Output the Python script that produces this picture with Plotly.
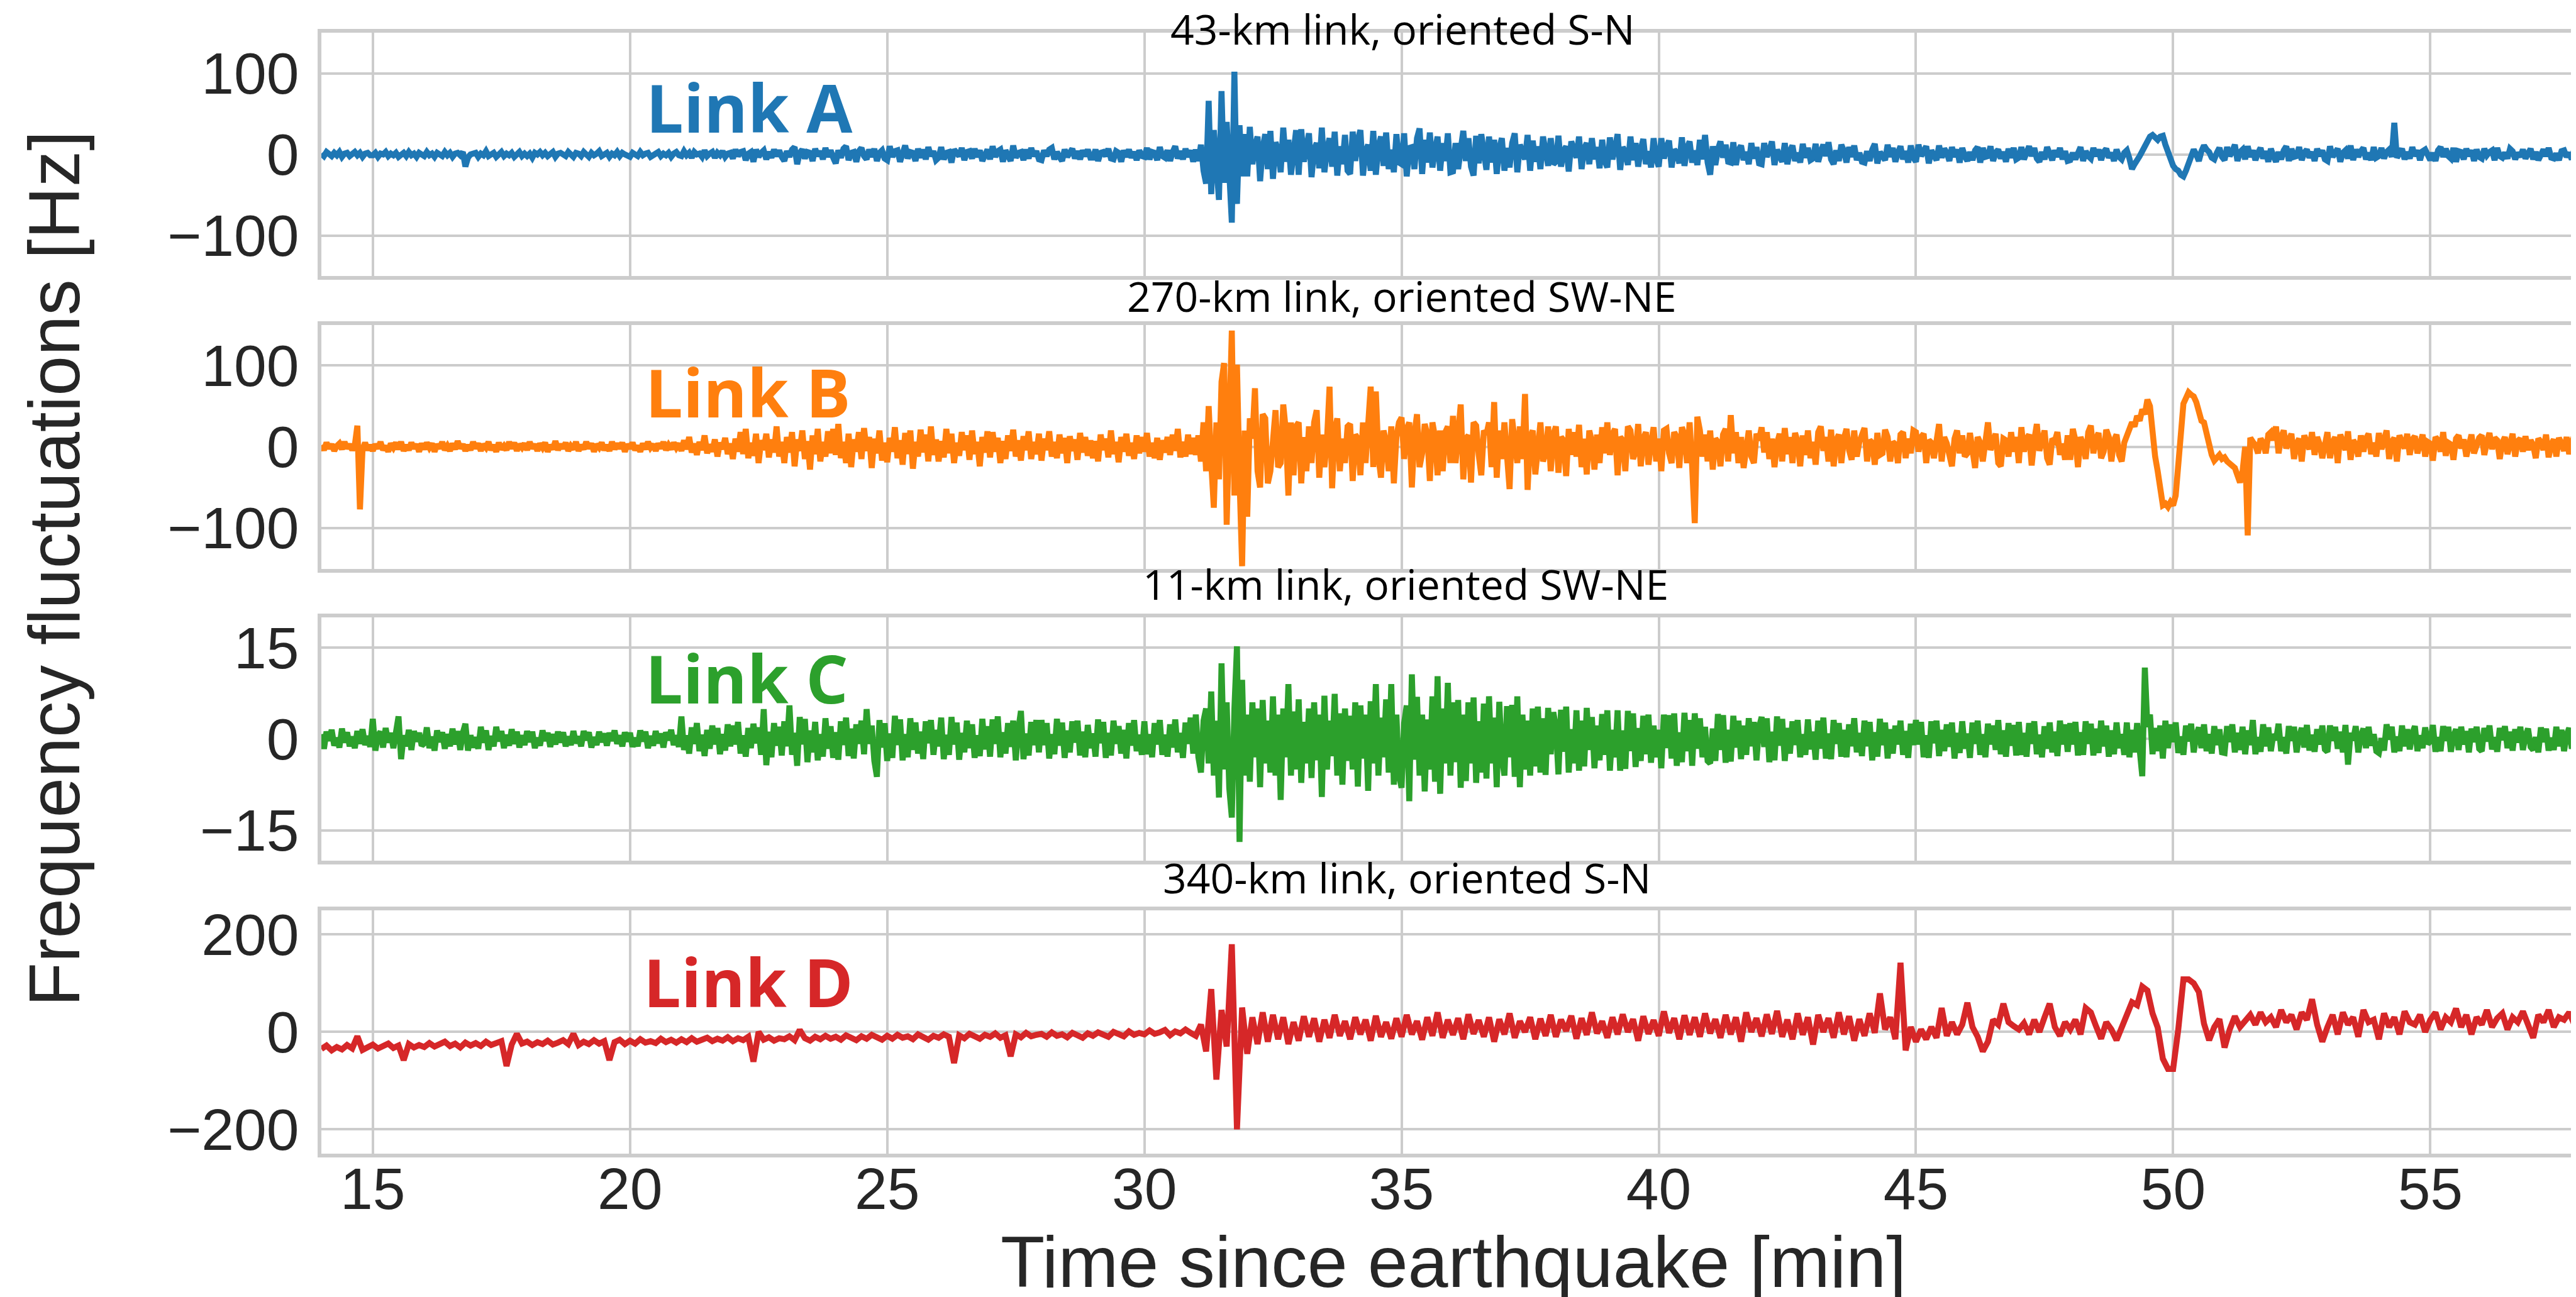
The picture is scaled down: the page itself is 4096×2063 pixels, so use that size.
import numpy as np
import plotly.graph_objects as go

# ---------------- data ----------------
# one row per minute, starting at 14 min; the samples of a row are evenly spread over that minute
first_minute = 14

link_a_rows = [
    [1, -2, 3, 0, -2, 2, -1, 3, -3, 1, 2, -2, 0, 3, -1, 2, -3, 1, 2, -1],
    [-1, 2, -3, 1, 0, 3, -2, 1, -1, 2, -3, 0, 2, -2, 3, -1, 1, -3, 2, 0],
    [-2, 3, -1, 1, -3, 2, 0, -2, 3, -1, 2, -3, 1, 2, -1, 3, -15, -4, 0, 2],
    [2, -3, 1, -1, 4, -2, 0, 2, -3, 1, 3, -2, 1, -1, 2, -3, 0, 3, -2, 1],
    [-2, 1, -4, 2, 0, 3, -1, 2, -2, 0, 3, -3, 1, 2, -1, -2, 3, 0, -3, 2],
    [1, -2, 3, 0, -3, 2, -1, 1, 4, -2, 0, 2, -3, 1, -1, 3, -2, 2, 0, -2],
    [-3, 2, 0, -2, 3, -1, 1, 2, -3, 0, 1, 3, -2, 1, -1, 2, -3, 1, 3, -1],
    [-2, 4, -1, 2, -4, 3, 0, 1, -3, 5, -2, 1, 3, -4, 2, -1, 4, -3, 1, 2],
    [-5, 6, -2, 3, 4, -7, 1, 3, -9, 6, -3, 2, 5, -6, 3, -4, 6, -2, 5, -3],
    [-8, 4, -3, 6, 9, -12, 2, 6, -5, 3, 2, -8, 7, -2, 4, -6, 8, -3, 5, -4],
    [-11, 5, -4, 7, 10, -7, 2, 3, -9, 4, 8, -2, -6, 6, -3, 7, -8, 2, 5, -5],
    [-7, 10, -3, 4, 5, -9, 2, 11, -5, 3, 2, -8, 7, -4, 6, -6, 9, -2, 4, -7],
    [-4, 9, -6, 2, 3, -10, 6, 1, -2, 8, -7, 3, 4, -5, 7, -3, 5, -8, 2, 6],
    [-6, 10, -3, 4, 6, -9, 5, -2, -8, 11, -4, 2, 3, -7, 6, -5, 8, -2, 4, -6],
    [-7, 5, -2, 6, 8, -6, 3, -3, -8, 6, -3, 2, 7, -5, 4, -6, 5, -2, 6, -4],
    [-4, 6, -8, 2, 3, -2, 7, -5, -6, 4, 2, -9, 5, -3, 6, -4, 3, -7, 5, -2],
    [-3, 8, -6, 3, 2, -7, 9, -2, -4, 5, -8, 3, 10, -5, 4, -6, 7, -3, 5, -9],
    [6, -8, 12, -20, -36, 66, -49, 30, -20, -56, 78, -35, 40, -20, -84, 102, -61, 36, -27, 25],
    [-27, 34, -12, 10, 22, -33, 8, 25, -18, 29, -30, 15, 5, -22, 33, -9, 18, -25, 12, 30],
    [-25, 31, -9, 14, 26, -28, 6, 14, -17, 33, -22, 6, 20, -15, 28, -26, 10, -12, 24, -20],
    [-24, 28, -8, 18, 30, -26, 4, 12, -20, 29, -25, 10, 22, -14, 27, -18, 6, -22, 25, -10],
    [-12, 26, -27, 8, 9, -18, 20, 32, -24, 18, -10, 27, -16, 5, 22, -20, 14, -8, 26, -22],
    [-21, 14, -18, 6, 29, -8, 20, -15, -26, 23, -11, 25, 5, -19, 22, -10, 18, -24, 8, 20],
    [-20, 8, -16, 14, 26, -22, 12, 4, -6, 24, -20, 17, -9, 10, -18, 22, 6, -14, 20, -12],
    [-9, 23, -15, 4, 10, -21, 16, 2, -4, 22, -18, 7, 14, -12, 20, -6, 9, -17, 18, -8],
    [-16, 21, -6, 8, 25, -19, 9, 3, -13, 22, -7, 14, -15, 6, 19, -12, 4, -16, 20, -5],
    [-15, 20, -5, 9, 17, -16, 6, 2, -11, 21, -14, 8, 16, -10, 5, -13, 18, -6, 24, -10],
    [-25, 10, -13, 6, 16, -4, 12, -9, -10, 15, -13, 5, 11, -7, 3, -12, 14, -5, 9, -11],
    [-12, 14, -3, 5, 16, -13, 6, -2, -9, 14, -12, 4, 11, -8, 2, -10, 13, -4, 8, -7],
    [-5, 13, -9, 3, 12, -2, 15, -6, -12, 5, -8, 12, 4, -10, 9, -3, 11, -7, 2, -9],
    [-10, 4, -8, 6, 13, -11, 3, -2, -7, 12, -3, 8, -9, 2, 10, -6, 4, -10, 11, -4],
    [-9, 12, -2, 4, 10, -11, 5, -1, -7, 11, -4, 7, 2, -8, 9, -3, 6, -10, 8, -2],
    [-8, 3, -7, 5, 9, -10, 8, -3, -2, 10, -8, 2, 6, -5, 3, -9, 7, -4, 8, -6],
    [-4, 9, -6, 2, 10, -2, 8, -5, -9, 3, -6, 9, 1, -7, 5, -3, 8, -6, 4, -8],
    [-7, 2, -6, 4, 9, -8, 4, -2, -5, 8, -2, 6, -7, 3, 7, -4, 2, -8, 6, -3],
    [-6, 2, 5, -5, -18, -12, -8, -2, 4, 10, 18, 22, 24, 20, 18, 22, 23, 12, 2, -6],
    [-14, -18, -20, -25, -27, -20, -10, -2, 6, 0, -8, 4, 11, 6, 3, -4, -6, 2, 8, -3],
    [-7, 9, -2, 4, 12, -8, 3, 6, -6, 10, -3, 5, -7, 2, 8, -5, 4, -9, 7, -2],
    [-9, 3, -6, 5, 10, -8, 7, -3, -2, 9, -7, 2, 6, -4, 3, -8, 7, -2, 5, -6],
    [-8, 10, -3, 2, 7, -9, 2, 5, -5, 11, -7, 6, -3, 4, 8, -6, 2, -7, 9, -4],
    [-2, 8, -5, 3, 6, -3, 39, -4, 2, 7, -6, 3, -5, 9, -2, 5, -7, 4, 6, -3],
    [-7, 2, -8, 5, 9, -3, 7, -2, -5, 8, -9, 4, 3, -6, 7, -2, 5, -8, 6, -3],
    [-5, 7, -1, 3, 5, -7, 8, -2, -4, 2, -5, 7, 4, -6, 2, -3, 6, -5, 3, 7],
    [-6, 3, -7, 2, 6, -2, 8, -4, -5, 1, -7, 4, 5, -3, 2, -6, 7, -2, 4, -5],
]

link_b_rows = [
    [2, -4, 5, -2, 3, -5, 1, 4, -3, 6, -2, 3, -4, 2, 26, -77, -3, 5, -4, 2],
    [-5, 3, -2, 6, -4, 1, -6, 4, -1, 5, -3, 6, -5, 2, -4, 5, -2, 3, -6, 4],
    [-3, 5, -1, 4, -6, 3, -2, 6, -4, 1, -5, 4, -3, 7, -2, 3, -5, 2, -4, 6],
    [-2, 4, -5, 3, -1, 6, -4, 2, -6, 5, -3, 1, -4, 6, -2, 5, -5, 3, -1, 4],
    [-4, 6, -2, 3, -5, 4, -1, 5, -6, 2, -3, 7, -4, 3, -2, 5, -5, 1, -3, 6],
    [-5, 2, -3, 6, -2, 4, -6, 3, -1, 5, -4, 2, -5, 6, -3, 4, -2, 5, -6, 3],
    [-2, 5, -4, 1, -6, 4, -3, 6, -1, 3, -5, 4, -2, 6, -4, 2, -3, 5, -1, 4],
    [-5, 8, -3, 12, -7, 4, -10, 6, -4, 14, -8, 3, -6, 9, -12, 5, -3, 11, -9, 4],
    [-15, 10, -6, 18, -9, 22, -14, 5, -11, 16, -20, 8, -4, 16, -13, 9, -7, 25, -12, 6],
    [-20, 12, -7, 18, -24, 9, -5, 20, -15, 7, -28, 14, -9, 22, -18, 6, -12, 19, -8, 22],
    [-10, 28, -14, 6, -20, 16, -25, 9, -6, 18, -15, 23, -5, 12, -26, 10, -8, 20, -17, 5],
    [-19, 11, -6, 24, -14, 8, -22, 17, -9, 20, -27, 6, -12, 21, -7, 15, -18, 25, -10, 9],
    [-18, 7, -13, 22, -8, 16, -20, 5, -11, 18, -4, 14, -16, 20, -9, 6, -24, 12, -7, 19],
    [-13, 18, -6, 11, -20, 7, -15, 14, -5, 21, -12, 8, -17, 13, -4, 19, -15, 6, -9, 16],
    [-17, 10, -4, 19, -12, 6, -14, 15, -8, 11, -20, 13, -5, 9, -16, 17, -7, 12, -11, 8],
    [-14, 7, -18, 15, -4, 10, -13, 20, -9, 6, -19, 12, -6, 16, -11, 5, -15, 14, -8, 12],
    [-6, 17, -12, 5, -14, 11, -16, 8, -7, 12, -10, 15, -5, 22, -13, 6, -12, 15, -9, 11],
    [-10, 14, -18, 30, -30, 50, -20, -75, 30, -40, 80, 103, -96, 40, 143, -60, 101, -40, -147, 20],
    [-86, 35, 10, 72, -30, -50, 40, 35, -45, -30, 20, 45, -25, -20, 52, 20, -60, 30, -35, 25],
    [30, -45, 12, -30, 25, -20, 30, 45, -38, 15, -25, 8, 74, -51, 20, 35, -30, 10, -20, 25],
    [28, -42, 15, 10, -35, 30, -20, 25, 74, -25, 68, -12, -38, 20, 6, -30, 25, -45, 12, 30],
    [36, -15, 22, 30, -50, 15, 40, -25, -8, 28, 15, -42, 30, 12, -35, 20, -30, 18, 25, -20],
    [38, -20, 15, 52, -40, 10, 14, -44, 30, 26, -10, -35, 20, 15, 30, -25, 55, -38, 20, -15],
    [30, -25, -52, 34, 10, -20, 25, -15, 65, -53, 12, 20, -34, 8, 30, -18, -8, 25, -30, 15],
    [25, -32, 12, 8, -36, 22, -10, 18, -12, 27, -25, 10, -34, 20, 6, -28, 15, -20, 24, -8],
    [30, -10, 15, 22, -35, 12, 8, -30, 25, 20, -15, -6, 28, -24, 10, 18, -22, 5, 24, -18],
    [10, -30, 20, 22, -8, -20, 18, 12, -26, 24, 15, -20, 30, -25, -94, 37, 20, -12, 15, -18],
    [20, -28, 10, 6, -24, 15, 22, -18, 39, -8, 18, -20, 12, -26, 5, 20, -12, -20, 16, 8],
    [24, -7, 18, -15, 10, -25, 4, 16, -18, 23, -9, 12, -20, 17, 6, -24, 14, -10, 20, -14],
    [6, -22, 18, 25, -5, 12, -18, 21, -24, 8, 15, -20, 10, 22, -4, -16, 20, -12, 6, 15],
    [23, -18, 8, 5, -22, 17, -10, -8, 21, 12, -18, 6, 3, -20, 15, 18, -14, 10, -8, 20],
    [18, -6, 12, 16, -20, 8, 5, -14, 10, 28, -18, 12, 4, -15, -24, 10, 20, -8, 14, -12],
    [-8, 17, -10, -26, 12, 5, -18, 15, 30, -4, 8, 16, -20, -24, 10, 8, -12, 18, -6, 12],
    [-20, 24, -6, 10, 15, -23, 8, 28, -5, 12, 20, -14, -22, 10, 7, 18, -10, 4, -16, 14],
    [-16, 22, 8, -25, 12, 3, -15, 18, 26, -8, 10, 17, -14, -6, 21, 12, -18, 8, 15, -10],
    [-18, 5, 15, 22, 30, 25, 38, 32, 46, 40, 58, 50, 7, -12, -30, -50, -72, -70, -74, -68],
    [-72, -60, -25, 10, 53, 60, 67, 64, 62, 55, 39, 32, 30, 15, -3, -10, -17, -12, -10, -15],
    [-13, -18, -20, -24, -26, -35, -44, -30, 0, -109, 11, 6, 2, -8, 10, 5, -8, 15, 18, 8],
    [25, -8, 12, 20, -2, 8, 16, -15, 4, 10, -18, 14, 6, -3, 18, -10, 12, 3, -14, 8],
    [18, -14, 5, 12, -20, 15, 2, -4, 19, -16, 8, 3, -12, 14, -6, 10, 16, -9, 5, -12],
    [17, -3, 8, 20, -15, 6, 11, -18, 14, 4, -2, 16, -10, 9, 13, -8, 4, 15, -12, 6],
    [4, -17, 12, 8, -6, 18, -11, 5, 3, -16, 10, 14, -2, 9, -12, 6, 15, -8, 2, 11],
    [14, -10, 6, 17, -3, 11, 8, -15, 5, 12, -9, 3, 16, -12, 7, 10, -6, 13, -4, 8],
    [2, -14, 10, 6, -4, 15, -13, 3, 9, -12, 11, 4, -5, 12, -9, 6, 14, -7, 10, 3],
]

link_c_rows = [
    [0.8, -1.6, 1.2, -0.3, 1.5, -1.1, 0.2, -1.4, 1.7, -0.6, 1.1, -1.2, 0.4, -1.5, 1.3, -0.8, 1.6, -1.0, 0.5, -1.3],
    [3.3, -1.9, 0.5, 1.2, -1.4, 1.8, -0.6, 1.0, -1.5, 1.4, 3.7, -3.3, 0.6, -1.2, 1.5, -1.8, 1.3, -0.4, 1.0, -1.1],
    [-0.7, 1.9, -1.5, 0.4, -1.9, 1.4, -0.5, 1.1, -1.6, 0.8, -1.2, 1.7, -0.9, 1.3, -1.8, 1.0, 2.5, -1.9, 0.6, -1.4],
    [0.3, -1.6, 2.0, -0.6, 1.4, -1.8, 0.5, -1.2, 2.0, -0.4, 1.3, -1.5, 0.7, -1.1, 1.6, -0.8, 1.2, -1.4, 0.6, -1.0],
    [1.3, -0.5, 1.2, -1.5, 0.2, -1.1, 1.4, -0.3, 1.0, -1.3, 0.8, -0.9, 1.2, -0.6, 1.1, -1.2, 0.4, -1.0, 1.3, -0.7],
    [0.4, -1.2, 1.3, -0.2, 1.1, -1.4, 0.3, -1.0, 1.2, -0.5, 0.9, -1.1, 1.0, -0.3, 1.4, -0.8, 0.6, -1.2, 1.1, -0.4],
    [1.0, -1.3, 0.2, -1.2, 1.4, -0.4, 1.2, -1.5, 0.5, -1.1, 1.3, -0.7, 0.9, -1.4, 1.1, -0.2, 1.5, -1.0, 0.6, -1.3],
    [3.7, -1.8, 0.6, -2.4, 1.9, -0.8, 2.6, -2.0, 0.7, -2.8, 1.5, -1.6, 2.2, -0.9, 1.8, -2.5, 0.8, -1.9, 2.4, -1.2],
    [2.2, -0.9, 2.8, -2.4, 0.6, -2.9, 1.8, -1.5, 2.5, -0.7, 1.9, -2.6, 4.9, -4.3, 1.2, -3.0, 2.6, -1.1, 2.0, -2.7],
    [2.9, -1.2, 5.5, -2.6, 1.0, -4.4, 3.6, -0.9, 3.3, -3.8, 1.4, -2.2, 2.8, -3.5, 0.8, -2.9, 3.4, -1.6, 2.1, -3.1],
    [1.1, -3.4, 2.9, -1.0, 3.5, -2.8, 1.7, -3.2, 2.4, -0.8, 3.0, -2.5, 4.9, -0.8, 2.2, -3.6, -6.2, 3.1, -1.4, 2.6],
    [-3.6, 0.9, -3.1, 3.8, -1.0, 3.2, -3.5, 0.8, -3.0, 3.4, -1.8, 2.7, -2.4, 1.2, -3.3, 2.9, -0.7, 3.1, -2.6, 1.5],
    [-1.2, 3.5, -3.3, 0.7, -2.6, 3.6, -0.9, 2.7, -3.4, 1.0, -2.2, 3.0, -1.5, 2.4, -3.1, 0.6, -2.8, 3.3, -1.7, 2.1],
    [-2.9, 3.2, -0.8, 3.7, -3.0, 1.1, -2.4, 2.6, -1.3, 3.0, -3.5, 1.6, 4.6, -3.3, 0.9, -2.7, 2.8, -1.0, 3.1, -2.2],
    [3.1, -1.0, 2.6, -3.2, 0.8, -2.5, 3.3, -1.1, 2.7, -3.1, 1.4, -2.2, 2.9, -0.6, 3.0, -2.7, 1.2, -3.0, 2.3, -1.5],
    [0.9, -2.9, 3.2, -0.7, 2.8, -3.1, 1.0, -2.7, 3.0, -0.8, 2.1, -2.4, 1.5, -3.2, 2.6, -1.1, 3.1, -2.0, 0.7, -2.6],
    [2.9, -2.5, 0.8, -3.0, 2.6, -0.9, 3.1, -2.6, 0.7, -2.9, 2.4, -1.4, 3.2, -2.2, 1.0, -3.1, 2.7, -0.8, 3.5, -2.4],
    [4.0, -3.0, -5.5, 3.0, 5.0, -4.0, 7.8, -6.0, 3.0, -9.6, 12.4, -5.0, 6.0, -8.0, -12.9, 5.0, 15.2, -16.9, 9.7, -6.0],
    [4.0, -7.0, 6.0, -3.0, 5.0, -7.9, 6.4, -4.0, 3.0, -5.5, 7.0, -6.0, 4.0, -10.0, 5.0, -3.0, 9.0, -6.0, 4.5, -5.0],
    [6.5, -7.2, 2.8, -4.0, 5.0, -6.4, 6.0, -3.5, 4.0, -9.5, 7.1, -5.0, 3.0, -2.8, 7.4, -6.0, 4.2, -7.5, 5.0, -3.6],
    [3.8, -5.0, 6.0, -7.8, 5.5, -3.2, 4.0, -8.5, 6.2, -4.0, 9.0, -6.0, 3.5, -3.0, 6.5, -5.5, 9.0, -7.5, 4.0, -6.0],
    [-8.0, 2.6, 5.5, -10.2, 10.6, -3.4, 6.9, -6.0, 4.0, -8.6, 3.2, -5.0, 7.0, -7.0, 10.3, -9.0, 5.0, -4.0, 9.2, -6.0],
    [6.0, -3.8, 6.4, -8.0, 4.0, -6.9, 6.0, -4.0, 6.8, -7.2, 2.9, -5.5, 5.8, -6.5, 7.0, -4.0, 3.5, -7.9, 6.1, -3.0],
    [-6.0, 5.4, -3.0, 5.6, -6.2, 7.0, -7.9, 4.0, -5.0, 3.0, -6.0, 5.0, -4.5, 5.3, -5.5, 3.4, -5.9, 5.1, -2.5, 4.4],
    [2.0, -5.8, 4.8, -2.1, 5.3, -5.5, 1.6, -4.0, 4.7, -5.2, 3.0, -4.5, 5.1, -1.8, 3.6, -4.8, 2.2, -3.5, 4.1, -2.6],
    [4.7, -5.2, 1.5, -3.0, 4.7, -5.2, 1.4, -4.9, 4.6, -2.0, 4.2, -4.6, 1.8, -3.6, 3.8, -2.5, 4.0, -3.9, 2.2, -3.0],
    [1.5, -4.8, 4.0, -1.5, 3.9, -3.2, 4.2, -4.4, 1.1, -3.8, 4.3, -2.0, 3.1, -4.4, 4.2, -1.6, 3.4, -3.0, 2.0, -3.6],
    [-4.0, 1.7, -3.6, 4.1, -1.8, 3.9, -3.9, 1.5, -3.7, 3.8, -1.4, 3.0, -3.3, 2.2, -2.6, 3.4, -1.2, 2.8, -3.5, 1.9],
    [3.6, -1.3, 3.4, -3.8, 1.2, -3.5, 3.7, -1.1, 3.3, -3.6, 1.8, -2.4, 2.9, -1.0, 3.1, -3.0, 0.8, -2.6, 3.2, -1.7],
    [1.2, -3.4, 3.0, -1.6, 3.5, -3.2, 0.9, -3.3, 3.1, -0.8, 2.6, -2.9, 1.5, -3.0, 2.4, -1.2, 3.4, -2.2, 1.0, -2.8],
    [3.0, -1.2, 2.8, -3.5, 1.1, -2.9, 3.3, -1.0, 2.7, -3.2, 1.6, -2.4, 2.2, -0.9, 3.0, -2.6, 1.3, -3.1, 2.5, -1.0],
    [3.1, -0.9, 2.8, -3.0, 0.6, -3.1, 2.9, -0.7, 3.0, -2.8, 1.5, -2.0, 2.4, -1.3, 2.7, -3.2, 1.0, -2.3, 2.9, -1.6],
    [0.9, -3.1, 2.7, -0.8, 3.0, -2.6, 0.8, -3.0, 2.5, -0.9, 2.2, -1.8, 3.1, -2.5, 1.4, -2.9, 2.6, -1.1, 2.3, -2.7],
    [2.8, -2.6, 1.0, -2.9, 2.6, -0.8, 2.9, -2.5, 0.7, -3.0, 2.1, -1.6, 2.7, -2.2, 1.2, -2.8, 3.0, -0.9, 2.4, -2.1],
    [2.6, -0.9, 2.8, -2.7, 1.1, -2.6, 2.9, -0.8, 2.5, -2.7, 1.7, -2.3, 3.0, -1.2, 2.2, -2.9, 1.4, -2.5, 2.7, -1.5],
    [0.8, -2.6, 2.7, -3.0, 1.5, -2.2, 2.6, -1.8, -6.1, 11.7, 2.0, 4.0, -2.5, 1.8, -2.0, 2.2, -3.2, 3.0, -1.5, 2.4],
    [-0.5, 2.7, -2.3, 0.4, -2.6, 2.2, -0.4, 2.5, -2.2, 0.6, 1.9, -1.5, 2.4, -2.0, 0.8, -2.4, 2.1, -1.0, 1.6, -2.2],
    [-2.3, 2.1, -0.5, 2.4, -2.2, 1.0, -1.8, 2.0, -2.5, 1.4, -1.0, 3.1, -2.5, 0.3, -2.1, 2.4, -1.2, 1.9, -2.0, 0.8],
    [-0.2, 2.5, -2.0, 0.3, -2.4, 2.1, -0.3, 2.0, -2.2, 0.4, 1.8, -1.4, 2.3, -1.9, 0.7, -2.1, 1.6, -0.9, 2.2, -1.7],
    [-2.1, 2.2, -0.3, 2.0, -1.6, 1.2, -2.2, 2.3, -4.2, 1.0, -0.2, 2.1, -2.2, 0.5, 1.7, -1.5, 2.0, -1.1, 0.8, -2.0],
    [-2.3, 0.1, -1.9, 2.4, -0.1, 2.0, -2.2, 0.4, -2.0, 2.2, -1.2, 1.6, -1.7, 0.9, 2.1, -2.0, 0.6, -1.5, 1.9, -0.8],
    [-0.4, 2.3, -2.1, 0.3, -2.0, 2.1, -0.3, 2.0, -2.1, 0.4, 1.6, -1.8, 2.0, -0.9, 1.3, -2.2, 1.7, -0.5, 2.0, -1.6],
    [-2.0, 1.8, -0.4, 2.2, -1.7, 0.3, -2.1, 1.8, -0.2, 2.1, -1.5, 1.2, -1.9, 1.6, -0.6, 2.0, -1.8, 0.5, 1.7, -1.3],
    [-1.8, 0.3, -2.2, 1.9, -0.5, 1.7, -1.9, 0.2, -1.8, 2.0, -1.2, 1.5, -2.0, 0.7, 1.8, -1.6, 1.1, -0.8, 2.1, -1.4],
]

link_d_rows = [
    [-35, -28, -38, -31, -36, -27, -34, -9, -37, -30],
    [-26, -34, -29, -24, -33, -28, -58, -25, -32, -27],
    [-31, -23, -30, -26, -20, -29, -24, -32, -22, -28],
    [-23, -29, -20, -27, -24, -19, -70, -26, -4, -24],
    [-20, -27, -21, -25, -18, -26, -22, -17, -25, -4],
    [-27, -20, -25, -17, -24, -19, -58, -21, -16, -25],
    [-18, -24, -15, -22, -19, -23, -14, -21, -16, -22],
    [-15, -21, -13, -20, -16, -12, -19, -14, -18, -11],
    [-19, -13, -17, -10, -61, 0, -16, -11, -18, -13],
    [-15, -9, -17, 4, -13, -18, -10, -15, -8, -14],
    [-10, -16, -7, -13, -17, -9, -14, -6, -12, -16],
    [-8, -14, -6, -12, -9, -15, -5, -11, -16, -8],
    [-12, -5, -10, -64, -7, -13, -4, -9, -14, -6],
    [-10, -3, -12, -7, -50, -5, -11, -2, -9, -6],
    [-4, -10, -1, -8, -5, -11, -2, -7, -12, -3],
    [-8, -1, -6, -10, 0, -5, -9, 1, -6, -2],
    [-5, 3, -4, -1, 4, -7, 1, -3, 5, -2],
    [-8, 15, -40, 88, -98, 45, -30, 180, -200, 50],
    [-45, 30, -25, 40, -20, 35, -15, 30, -25, 20],
    [-18, 32, -10, 28, -20, 25, -12, 35, -8, 22],
    [-15, 30, -5, 25, -18, 33, -10, 20, -14, 28],
    [-10, 35, -5, 22, -16, 30, -8, 40, -12, 25],
    [-6, 28, -15, 36, -4, 24, -10, 30, -20, 26],
    [-5, 38, -12, 22, 0, 30, -15, 27, -8, 35],
    [-10, 25, 2, 33, -14, 28, -6, 40, -3, 22],
    [-12, 30, -5, 36, 0, 26, -18, 32, -4, 24],
    [-8, 42, -2, 28, -15, 34, -6, 30, -10, 38],
    [-3, 26, -12, 35, -5, 30, -20, 40, 0, 28],
    [-9, 36, -4, 43, -10, 25, -15, 38, -6, 30],
    [-26, 35, 0, 28, -12, 40, -5, 32, -18, 26],
    [-8, 38, -2, 79, 5, 30, -15, 142, -38, 10],
    [-20, 5, -15, 10, -12, 49, -8, 20, -5, 15],
    [60, 10, -10, -40, -20, 25, 15, 58, 20, 12],
    [5, 18, -5, 25, 0, 30, 58, 10, -8, 20],
    [5, 25, -5, 49, 40, 12, -14, 20, 5, -17],
    [10, 30, 61, 55, 93, 85, 38, 9, -55, -76],
    [-76, 5, 108, 108, 100, 82, 17, -17, 10, 26],
    [-32, 5, 32, 10, 25, 35, 15, 40, 20, 30],
    [10, 45, 20, 35, 5, 40, 25, 67, 15, -20],
    [10, 35, -5, 40, 15, 30, -10, 45, 20, 25],
    [-15, 38, 10, 30, -5, 42, 20, 15, 35, 0],
    [25, 40, 5, 30, 20, 48, 10, 35, -5, 30],
    [15, 45, 10, 28, 38, 5, 30, 20, 42, 12],
    [-12, 35, 20, 45, 10, 30, 25, 40, 15, 28],
]

link_names = ["Link A", "Link B", "Link C", "Link D"]
panel_titles = ["43-km link, oriented S-N", "270-km link, oriented SW-NE",
                "11-km link, oriented SW-NE", "340-km link, oriented S-N"]
y_ticks = [[-100, 0, 100], [-100, 0, 100], [-15, 0, 15], [-200, 0, 200]]
y_ranges = [[-150, 150], [-150, 150], [-20, 20], [-250, 250]]
x_ticks = [15, 20, 25, 30, 35, 40, 45, 50, 55]
x_range = [14.0, 57.93]
colors = ["#1f77b4", "#ff7f0e", "#2ca02c", "#d62728"]
series_rows = [link_a_rows, link_b_rows, link_c_rows, link_d_rows]


def to_xy(rows):
    xs, ys = [], []
    for m, row in enumerate(rows):
        n = len(row)
        for j, v in enumerate(row):
            xs.append(first_minute + m + j / n)
            ys.append(v)
    return np.array(xs), np.array(ys)


# ---------------- layout geometry (reference pixels -> window) ----------------
W, H = 4096, 2063
S = W / 4363.0
L = 536 * S
TOP = 47 * S
BOT = 1946 * S
PW = W - L
PH = BOT - TOP


def px(xr):
    return (xr * S - L) / PW


def py(yr):
    return (BOT - yr * S) / PH


panels_ref = [(47, 459.5), (542, 955), (1037, 1450), (1533.5, 1946)]
title_ref = [(2367, 40), (2366, 492), (2372, 980), (2374, 1477)]
label_ref = [(1084, 173), (1082, 655), (1082, 1140), (1079, 1654)]

fig = go.Figure()
GRID = "#cccccc"
TICKFONT = dict(family="Liberation Sans, Arial, sans-serif", size=93, color="#262626")


def fmt(v):
    return ("\u2212" + str(abs(v))) if v < 0 else str(v)


layout = dict(
    width=W, height=H,
    margin=dict(l=L, r=0, t=TOP, b=H - BOT, pad=0),
    paper_bgcolor="white", plot_bgcolor="white",
    showlegend=False,
)

for i in range(4):
    n = "" if i == 0 else str(i + 1)
    top, bot = panels_ref[i]
    xs, ys = to_xy(series_rows[i])
    fig.add_trace(go.Scatter(
        x=xs, y=ys, mode="lines",
        line=dict(color=colors[i], width=9.5),
        xaxis="x" + n, yaxis="y" + n, hoverinfo="skip",
    ))
    layout["xaxis" + n] = dict(
        domain=[0, 1], anchor="y" + n, range=x_range,
        tickvals=x_ticks, showticklabels=(i == 3),
        ticks="", ticklabelstandoff=-30,
        tickfont=TICKFONT,
        showgrid=True, gridcolor=GRID, gridwidth=4,
        showline=True, mirror=True, linecolor=GRID, linewidth=6,
        zeroline=False,
        **({} if i == 0 else dict(matches="x")),
    )
    layout["yaxis" + n] = dict(
        domain=[py(bot), py(top)], anchor="x" + n, range=y_ranges[i],
        tickvals=y_ticks[i], ticktext=[fmt(v) for v in y_ticks[i]],
        ticks="outside", ticklen=11, tickcolor="rgba(0,0,0,0)",
        tickfont=TICKFONT,
        showgrid=True, gridcolor=GRID, gridwidth=4,
        showline=True, mirror=False, linecolor=GRID, linewidth=6,
        zeroline=False,
    )

annotations = []
for i in range(4):
    tx, ty = title_ref[i]
    annotations.append(dict(
        text=panel_titles[i], xref="paper", yref="paper",
        x=px(tx), y=py(ty), xanchor="center", yanchor="middle",
        showarrow=False, font=dict(family="Open Sans, sans-serif", size=66, color="black"),
    ))
    lx, ly = label_ref[i]
    annotations.append(dict(
        text="<b>" + link_names[i] + "</b>", xref="paper", yref="paper",
        x=px(lx), y=py(ly), xanchor="left", yanchor="middle",
        showarrow=False, font=dict(family="Open Sans, sans-serif", size=106, color=colors[i]),
    ))

annotations.append(dict(
    text="Time since earthquake [min]", xref="paper", yref="paper",
    x=px(2453), y=py(2129), xanchor="center", yanchor="middle", showarrow=False,
    font=dict(family="Liberation Sans, Arial, sans-serif", size=115, color="#262626"),
))
annotations.append(dict(
    text="Frequency fluctuations [Hz]", xref="paper", yref="paper",
    x=px(83), y=py(955), xanchor="center", yanchor="middle", showarrow=False,
    textangle=-90,
    font=dict(family="Liberation Sans, Arial, sans-serif", size=115, color="#262626"),
))
layout["annotations"] = annotations

fig.update_layout(**layout)
fig.write_html("out.html")
